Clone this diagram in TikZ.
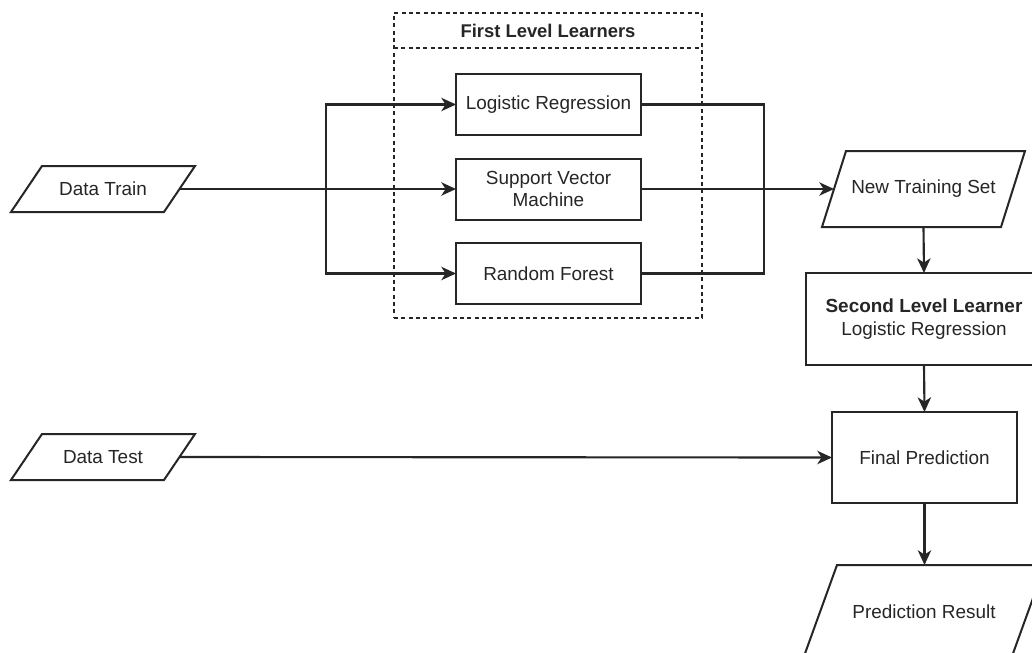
\documentclass[tikz,border=0pt]{standalone}
\usepackage{fontspec}
\setmainfont{Liberation Sans}
\usetikzlibrary{arrows.meta,calc}
\definecolor{ink}{HTML}{262626}
\begin{document}
\begin{tikzpicture}[x=0.75pt,y=-0.75pt,
  font=\fontsize{14.2}{17}\selectfont, text=ink,
  box/.style={draw=ink,line width=1.5pt,rectangle,inner sep=0pt,outer sep=0pt,align=center},
  slot/.style={rectangle,inner sep=0pt,outer sep=0pt,align=center},
  link/.style={draw=ink,line width=1.6pt},
  arr/.style={link,-{Stealth[length=11pt,width=10pt,inset=3.2pt]}},
  para/.style={draw=ink,line width=1.5pt,line join=miter},
  group/.style={draw=ink,line width=1.4pt,dash pattern=on 3pt off 2.5pt}]

\useasboundingbox (0,0) rectangle (1032,653);
\fill[white] (0,0) rectangle (1032,653);
\clip (0,0) rectangle (1032,653);

% first level learners group
\node[group,rectangle,inner sep=0pt,outer sep=0pt,minimum width=231pt,minimum height=228.75pt] (fll) at (548,165.5) {};
\node[slot,font=\fontsize{13.8}{16.5}\selectfont\bfseries] (fllt) at (548,31) {First Level Learners};
\draw[group] (fll.west |- 0,48) -- (fll.east |- 0,48);

\node[box,minimum width=138.75pt,minimum height=45.75pt] (lr) at (548.5,104.5) {Logistic Regression};
\node[box,minimum width=138.75pt,minimum height=45.75pt] (svm) at (548.5,189) {Support Vector\\Machine};
\node[box,minimum width=138.75pt,minimum height=45.75pt] (rf) at (548.5,273.5) {Random Forest};

% input data
\node[slot,minimum width=138pt,minimum height=34.5pt] (dtrain) at (103,189) {Data Train};
\draw[para] ([xshift=23.25pt]dtrain.north west) -- (dtrain.north east) -- ([xshift=-23.25pt]dtrain.south east) -- (dtrain.south west) -- cycle;
\coordinate (dtrainR) at ([xshift=-11.6pt]dtrain.east);

\node[slot,minimum width=138pt,minimum height=34.5pt] (dtest) at (103,457) {Data Test};
\draw[para] ([xshift=23.25pt]dtest.north west) -- (dtest.north east) -- ([xshift=-23.25pt]dtest.south east) -- (dtest.south west) -- cycle;
\coordinate (dtestR) at ([xshift=-11.6pt]dtest.east);

% meta level
\node[slot,minimum width=152.25pt,minimum height=57pt] (nts) at (923.5,189) {New Training Set};
\draw[para] ([xshift=18pt]nts.north west) -- (nts.north east) -- ([xshift=-18pt]nts.south east) -- (nts.south west) -- cycle;
\coordinate (ntsL) at ([xshift=9pt]nts.west);

\node[box,minimum width=177pt,minimum height=69pt] (slr) at (924,319) {\textbf{Second Level Learner}\\Logistic Regression};
\node[box,minimum width=138.75pt,minimum height=68.25pt] (fin) at (924.5,457.5) {Final Prediction};

\node[slot,minimum width=181.5pt,minimum height=70.5pt] (pr) at (924,612) {Prediction Result};
\draw[para] ([xshift=25.5pt]pr.north west) -- (pr.north east) -- ([xshift=-25.5pt]pr.south east) -- (pr.south west) -- cycle;

% connectors
\coordinate (split) at (326,189);
\coordinate (merge) at (764,189);
\draw[link] (dtrainR) -- (split);
\draw[arr] (split) |- (lr.west);
\draw[arr] (split) -- (svm.west);
\draw[arr] (split) |- (rf.west);
\draw[link] (lr.east) -| (merge);
\draw[link] (rf.east) -| (merge);
\draw[arr] (svm.east) -- (ntsL);
\draw[arr] (nts.south) -- (slr.north);
\draw[arr] (slr.south) -- (fin.north);
\draw[arr] (dtestR) -- (fin.west);
\draw[arr] (fin.south) -- (fin.south |- pr.north);
\end{tikzpicture}
\end{document}
